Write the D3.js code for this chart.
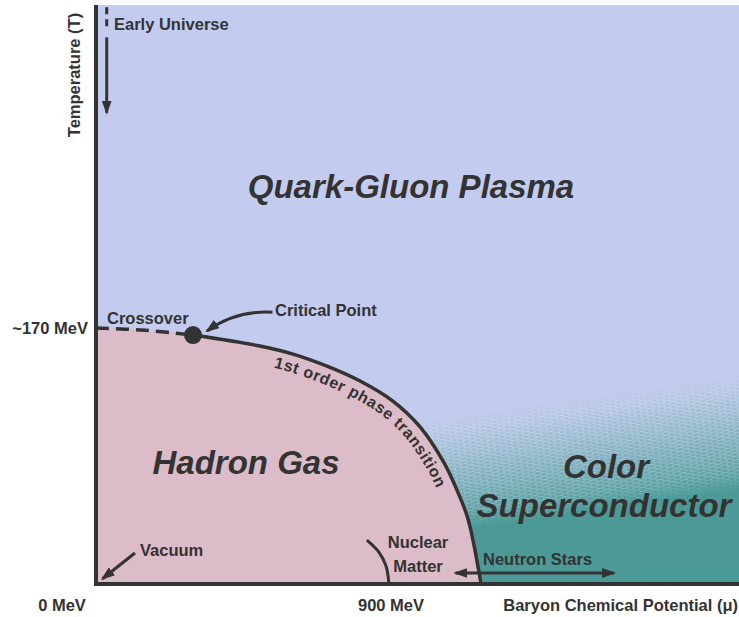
<!DOCTYPE html>
<html>
<head>
<meta charset="utf-8">
<script src="https://cdn.jsdelivr.net/npm/d3@7"></script>
<style>
  body { margin: 0; background: #fff; }
  svg { display: block; }
  text { font-family: "Liberation Sans", Arial, sans-serif; fill: #333; }
</style>
</head>
<body>
<div id="viz"></div>
<script>
// axis extents in MeV
const muDomain = [0, 1982];
const tDomain = [0, 384.5];
const muTicks = [0, 900];
const muTickLabels = ["0 MeV", "900 MeV"];
const tTicks = [170];
const tTickLabels = ["~170 MeV"];

// phase boundary (mu, T)
const boundaryMu = [0, 151, 299, 505, 607, 712, 814, 915, 999, 1073, 1110, 1144, 1162, 1187];
const boundaryT = [170, 168.5, 165.3, 158.0, 152.7, 144.7, 134.8, 121.5, 104.3, 80.4, 63.7, 45.2, 29.2, 0];
const criticalIndex = 2;

// colour superconductor fade band
const scFadeTopMu = [700, 1982];
const scFadeTopT = [99.7, 138.8];
const scSolidMu = [1184, 1982];
const scSolidT = [37.8, 62.4];

// nuclear matter marker arc
const nuclearMu = [903, 894, 872, 835];
const nuclearT = [0, 12, 21.2, 29.2];

// annotation arrows (mu, T)
const earlyMu = 33;
const earlyDashT = [383, 369];
const earlySolidT = [363, 313];
const vacuumFrom = [120, 20.6];
const vacuumTo = [20, 3.5];
const neutronMu = [1108, 1597];
const neutronT = 7.3;
const criticalArrowFrom = [544, 180.5];
const criticalArrowTo = [342, 168];

const width = 739, height = 617;
const x = d3.scaleLinear().domain(muDomain).range([96, 739]);
const y = d3.scaleLinear().domain(tDomain).range([584, 5]);

const blue = "#c3cbee", pink = "#dcbcc8", teal = "#4b9a98", ink = "#333";

const svg = d3.select("#viz").append("svg")
    .attr("width", width)
    .attr("height", height);
const defs = svg.append("defs");

// arrow heads
defs.append("marker")
    .attr("id", "head")
    .attr("viewBox", "0 0 14 10")
    .attr("refX", 12).attr("refY", 5)
    .attr("markerUnits", "userSpaceOnUse")
    .attr("markerWidth", 14).attr("markerHeight", 10)
    .attr("orient", "auto-start-reverse")
    .append("path").attr("d", "M0,0 L14,5 L0,10 Z").attr("fill", ink);

// plot background
svg.append("rect")
    .attr("x", x(0)).attr("y", y(tDomain[1]))
    .attr("width", x(muDomain[1]) - x(0))
    .attr("height", y(0) - y(tDomain[1]))
    .attr("fill", blue);

// superconductor gradient
const a = [x(scFadeTopMu[0]), y(scFadeTopT[0])];
const b = [x(scFadeTopMu[1]), y(scFadeTopT[1])];
const c = [x(scSolidMu[0]), y(scSolidT[0])];
let ux = b[0] - a[0], uy = b[1] - a[1];
const ul = Math.hypot(ux, uy); ux /= ul; uy /= ul;
const nx = -uy, ny = ux;
const dist = (c[0] - a[0]) * nx + (c[1] - a[1]) * ny;
const angle = Math.atan2(uy, ux) * 180 / Math.PI;

const grad = defs.append("linearGradient")
    .attr("id", "scGrad")
    .attr("gradientUnits", "userSpaceOnUse")
    .attr("x1", a[0]).attr("y1", a[1])
    .attr("x2", a[0] + nx * dist).attr("y2", a[1] + ny * dist);
grad.append("stop").attr("offset", 0).attr("stop-color", blue);
grad.append("stop").attr("offset", 1).attr("stop-color", teal);

const maskGrad = defs.append("linearGradient")
    .attr("id", "scMaskGrad")
    .attr("gradientUnits", "userSpaceOnUse")
    .attr("x1", a[0]).attr("y1", a[1])
    .attr("x2", a[0] + nx * dist).attr("y2", a[1] + ny * dist);
[[0, 0], [0.12, 0.3], [0.85, 0.25], [1, 0]].forEach(s =>
    maskGrad.append("stop").attr("offset", s[0]).attr("stop-color", "#fff").attr("stop-opacity", s[1]));

const pat = defs.append("pattern")
    .attr("id", "dashes")
    .attr("patternUnits", "userSpaceOnUse")
    .attr("width", 12).attr("height", 3.6)
    .attr("patternTransform", `rotate(${angle})`);
pat.append("rect").attr("x", 0).attr("y", 0).attr("width", 8).attr("height", 1).attr("fill", "#fff");
pat.append("rect").attr("x", 6).attr("y", 1.8).attr("width", 6).attr("height", 1).attr("fill", "#fff");
pat.append("rect").attr("x", 0).attr("y", 1.8).attr("width", 2).attr("height", 1).attr("fill", "#fff");

const scPoly = [
    [scFadeTopMu[0], scFadeTopT[0]],
    [scFadeTopMu[1], scFadeTopT[1]],
    [muDomain[1], 0],
    [scFadeTopMu[0], 0]
].map(p => [x(p[0]), y(p[1])]);

defs.append("mask").attr("id", "scMask")
    .append("polygon")
    .attr("points", scPoly.join(" "))
    .attr("fill", "url(#scMaskGrad)");

svg.append("polygon")
    .attr("points", scPoly.join(" "))
    .attr("fill", "url(#scGrad)");
svg.append("polygon")
    .attr("points", scPoly.join(" "))
    .attr("fill", "url(#dashes)")
    .attr("mask", "url(#scMask)");

// hadron gas region
const boundary = boundaryMu.map((m, i) => [m, boundaryT[i]]);
const area = d3.area()
    .x(d => x(d[0])).y0(y(0)).y1(d => y(d[1]))
    .curve(d3.curveCatmullRom);
svg.append("path")
    .attr("d", area(boundary))
    .attr("fill", pink);

const line = d3.line()
    .x(d => x(d[0])).y(d => y(d[1]))
    .curve(d3.curveCatmullRom);

// crossover (dashed)
svg.append("path")
    .attr("d", line(boundary.slice(0, criticalIndex + 1)))
    .attr("fill", "none").attr("stroke", ink)
    .attr("stroke-width", 3.5)
    .attr("stroke-dasharray", "13,7");

// first order line
const solid = svg.append("path")
    .attr("d", line(boundary.slice(criticalIndex)))
    .attr("fill", "none").attr("stroke", ink)
    .attr("stroke-width", 3.5);

// nuclear matter arc
svg.append("path")
    .attr("d", line(nuclearMu.map((m, i) => [m, nuclearT[i]])))
    .attr("fill", "none").attr("stroke", ink).attr("stroke-width", 3);

// offset path for the curved label
const node = solid.node();
const L = node.getTotalLength();
const off = 18;
const offPts = [];
for (let s = 0; s <= L; s += 2) {
    const p = node.getPointAtLength(s);
    const p1 = node.getPointAtLength(Math.max(0, s - 1));
    const p2 = node.getPointAtLength(Math.min(L, s + 1));
    let tx = p2.x - p1.x, ty = p2.y - p1.y;
    const tl = Math.hypot(tx, ty) || 1; tx /= tl; ty /= tl;
    offPts.push([p.x - ty * off, p.y + tx * off]);
}
defs.append("path").attr("id", "labelPath").attr("d", d3.line()(offPts));
let acc = 0, startLen = null, endLen = null;
offPts.forEach((p, i) => {
    if (i > 0) acc += Math.hypot(p[0] - offPts[i - 1][0], p[1] - offPts[i - 1][1]);
    if (startLen === null && p[0] >= 272) startLen = acc;
    if (endLen === null && p[1] >= 487) endLen = acc;
});
svg.append("text")
    .attr("font-size", "16px").attr("font-weight", "bold")
    .append("textPath")
    .attr("href", "#labelPath")
    .attr("startOffset", startLen)
    .attr("textLength", endLen - startLen)
    .attr("lengthAdjust", "spacing")
    .text("1st order phase transition");

// critical point
svg.append("circle")
    .attr("cx", x(boundaryMu[criticalIndex])).attr("cy", y(boundaryT[criticalIndex]))
    .attr("r", 9).attr("fill", ink);

// arrows
const arrow = (d, both) => svg.append("path")
    .attr("d", d).attr("fill", "none")
    .attr("stroke", ink).attr("stroke-width", 3)
    .attr("marker-end", "url(#head)")
    .attr("marker-start", both ? "url(#head)" : null);

svg.append("line")
    .attr("x1", x(earlyMu)).attr("x2", x(earlyMu))
    .attr("y1", y(earlyDashT[0])).attr("y2", y(earlyDashT[1]))
    .attr("stroke", ink).attr("stroke-width", 3)
    .attr("stroke-dasharray", "7,5");
arrow(`M${x(earlyMu)},${y(earlySolidT[0])} L${x(earlyMu)},${y(earlySolidT[1])}`);
arrow(`M${x(vacuumFrom[0])},${y(vacuumFrom[1])} L${x(vacuumTo[0])},${y(vacuumTo[1])}`);
arrow(`M${x(neutronMu[0])},${y(neutronT)} L${x(neutronMu[1])},${y(neutronT)}`, true);
const cf = [x(criticalArrowFrom[0]), y(criticalArrowFrom[1])];
const ct = [x(criticalArrowTo[0]), y(criticalArrowTo[1])];
arrow(`M${cf[0]},${cf[1]} Q${(cf[0] + ct[0]) / 2 - 4},${cf[1] - 2} ${ct[0]},${ct[1]}`);

// axes
svg.append("line")
    .attr("x1", x(0)).attr("x2", x(0))
    .attr("y1", y(tDomain[1])).attr("y2", y(0) + 2)
    .attr("stroke", ink).attr("stroke-width", 4);
svg.append("line")
    .attr("x1", x(0) - 2).attr("x2", x(muDomain[1]))
    .attr("y1", y(0)).attr("y2", y(0))
    .attr("stroke", ink).attr("stroke-width", 4);

const small = (t, px, py, anchor) => svg.append("text")
    .attr("x", px).attr("y", py)
    .attr("text-anchor", anchor || "start")
    .attr("font-size", "16.5px").attr("font-weight", "bold")
    .text(t);

muTicks.forEach((m, i) => small(muTickLabels[i], i === 0 ? 62 : x(m) + 3, 611, "middle"));
tTicks.forEach((t, i) => small(tTickLabels[i], 88, y(t) + 6, "end"));
small("Baryon Chemical Potential (\u03bc)", 738, 611, "end");
small("Temperature (T)", 0, 0, "middle").attr("transform", "translate(80,75) rotate(-90)");

small("Early Universe", 114, 30);
small("Crossover", 107, 324);
small("Critical Point", 275, 316);
small("Vacuum", 140, 556);
small("Nuclear", 418, 548, "middle");
small("Matter", 418, 572, "middle");
small("Neutron Stars", 483, 565);

const big = (t, px, py) => svg.append("text")
    .attr("x", px).attr("y", py)
    .attr("text-anchor", "middle")
    .attr("font-size", "33px").attr("font-weight", "bold").attr("font-style", "italic")
    .text(t);
big("Quark-Gluon Plasma", 411, 198);
big("Hadron Gas", 246, 474);
big("Color", 606, 478);
big("Superconductor", 604, 517);
</script>
</body>
</html>
